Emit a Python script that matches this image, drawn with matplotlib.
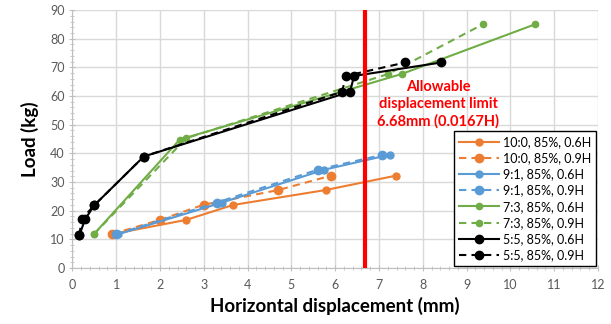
import matplotlib.pyplot as plt
import numpy as np

plt.rcParams['font.family'] = ['Lato', 'DejaVu Sans']

# 10:0, 85%
x_100_06 = [0.9, 2.6, 3.67, 5.78, 7.38]
y_100_06 = [11.8, 16.8, 22.0, 27.2, 32.2]
x_100_09 = [0.9, 2.0, 3.0, 4.7, 5.9]
y_100_09 = [11.8, 16.8, 22.1, 27.2, 32.2]

# 9:1, 85%
x_91_06 = [1.05, 3.41, 5.75, 7.24]
y_91_06 = [11.8, 22.8, 34.3, 39.5]
x_91_09 = [1.0, 3.29, 5.6, 7.08]
y_91_09 = [11.8, 22.8, 34.3, 39.5]

# 7:3, 85%
x_73_06 = [0.49, 2.45, 7.52, 10.56]
y_73_06 = [11.8, 44.8, 67.7, 85.0]
x_73_09 = [0.49, 2.6, 7.21, 9.37]
y_73_09 = [11.8, 45.3, 67.7, 85.0]

# 5:5, 85%
x_55_06 = [0.16, 0.29, 0.5, 1.63, 6.34, 6.43, 8.42]
y_55_06 = [11.5, 17.0, 21.9, 38.9, 61.5, 67.0, 71.7]
x_55_09 = [0.16, 0.21, 0.5, 1.63, 6.16, 6.24, 7.6]
y_55_09 = [11.5, 17.0, 21.9, 38.9, 61.5, 67.0, 71.7]

limit = 6.68

orange = '#ED7D31'
blue = '#5B9BD5'
green = '#70AD47'
black = '#000000'

fig = plt.figure(figsize=(6.11, 3.24), dpi=100)
ax = fig.add_axes([0.1185, 0.1728, 0.8602, 0.7962])

dash = (3.5, 2.5)
series = [
    (x_100_06, y_100_06, orange, '-', '10:0, 85%, 0.6H', 5),
    (x_100_09, y_100_09, orange, '--', '10:0, 85%, 0.9H', 6),
    (x_91_06, y_91_06, blue, '-', '9:1, 85%, 0.6H', 5),
    (x_91_09, y_91_09, blue, '--', '9:1, 85%, 0.9H', 6),
    (x_73_06, y_73_06, green, '-', '7:3, 85%, 0.6H', 4.5),
    (x_73_09, y_73_09, green, '--', '7:3, 85%, 0.9H', 4.5),
    (x_55_06, y_55_06, black, '-', '5:5, 85%, 0.6H', 6),
    (x_55_09, y_55_09, black, '--', '5:5, 85%, 0.9H', 6),
]
for xs, ys, c, ls, lab, ms in series:
    line, = ax.plot(xs, ys, color=c, ls=ls, lw=1.5, marker='o', ms=ms,
                    label=lab, zorder=3)
    if ls == '--':
        line.set_dashes(dash)

ax.axvline(limit, color='#FF0000', lw=3, zorder=4)
ax.text(8.35, 57.2, 'Allowable\ndisplacement limit\n6.68mm (0.0167H)',
        color='#FF0000', fontsize=10.5, fontweight='bold', ha='center',
        va='center', linespacing=1.25)

ax.set_xlim(0, 12)
ax.set_ylim(0, 90)
ax.set_xticks(np.arange(0, 13, 1))
ax.set_yticks(np.arange(0, 91, 10))
ax.set_xticks(np.arange(0, 12.01, 0.2), minor=True)
ax.set_yticks(np.arange(0, 90.01, 2), minor=True)
ax.grid(True, which='major', color='#D9D9D9', lw=1, zorder=0)
ax.set_axisbelow(True)
for s in ['top', 'right']:
    ax.spines[s].set_visible(False)
for s in ['left', 'bottom']:
    ax.spines[s].set_color('#BFBFBF')
ax.tick_params(which='both', color='#BFBFBF', labelcolor='#595959',
               labelsize=9)
ax.tick_params(which='major', length=4, direction='inout')
ax.tick_params(which='minor', length=3, direction='inout')
ax.tick_params(axis='x', pad=6)

ax.set_xlabel('Horizontal displacement (mm)', fontsize=13.5,
              fontweight='bold', labelpad=4)
ax.set_ylabel('Load (kg)', fontsize=13.5, fontweight='bold', labelpad=8)

leg = ax.legend(loc='lower right', fontsize=9, frameon=True, fancybox=False,
                borderaxespad=0.15, handlelength=3.2, labelspacing=0.33,
                borderpad=0.4, handletextpad=0.3)
leg.get_frame().set_edgecolor('black')
leg.get_frame().set_linewidth(1)
leg.get_frame().set_alpha(1)

fig.savefig('out.png', dpi=100)
